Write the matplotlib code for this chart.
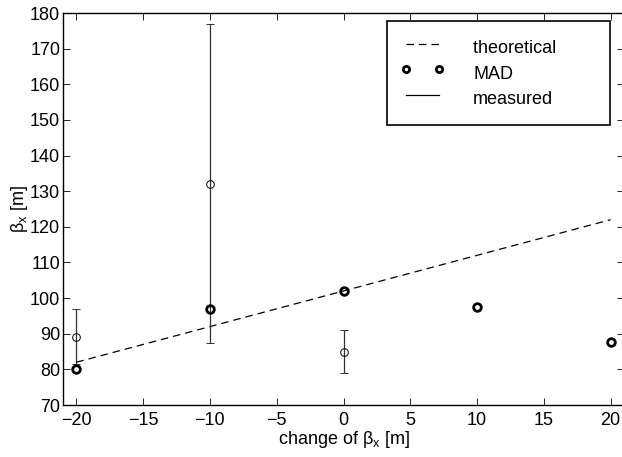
import matplotlib
matplotlib.use("Agg")
import matplotlib.pyplot as plt
import numpy as np
from matplotlib.lines import Line2D

plt.rcParams['font.family'] = ['Liberation Sans', 'DejaVu Sans']
plt.rcParams['mathtext.fontset'] = 'custom'
plt.rcParams['mathtext.rm'] = 'Liberation Sans'
plt.rcParams['mathtext.it'] = 'Liberation Sans'

theo_x = [-20, 20]
theo_y = [82, 122]

mad_x = [-20, -10, 0, 10, 20]
mad_y = [80, 97, 102, 97.5, 87.7]

meas_x = [-20, -10, 0]
meas_y = [89, 132, 85]
meas_lo = [81.5, 87.3, 79]
meas_hi = [97, 177, 91]

fig = plt.figure(figsize=(6.22, 4.57), dpi=100)
ax = fig.add_axes([63/622, 1 - 405/457, (624-63)/622, (405-13)/457])

yerr = [np.array(meas_y) - np.array(meas_lo), np.array(meas_hi) - np.array(meas_y)]
ax.errorbar(meas_x, meas_y, yerr=yerr, fmt='o', mfc='none', mec='black', ms=5.5,
            mew=0.7, ecolor='#333333', elinewidth=0.9, capsize=3, capthick=0.9,
            zorder=2)
ax.plot(theo_x, theo_y, '--', color='black', lw=0.9, dashes=(6, 4), zorder=3)
ax.plot(mad_x, mad_y, 'o', mfc='none', mec='black', ms=5.5, mew=2.0, ls='none', zorder=4)

ax.set_xlim(-21, 21)
ax.set_ylim(70, 180)
ax.set_xticks(range(-20, 21, 5))
ax.set_yticks(range(70, 181, 10))
ax.set_xticklabels(['\u221220', '\u221215', '\u221210', '\u22125', '0', '5', '10', '15', '20'])
ax.tick_params(direction='in', top=True, right=True, labelsize=13, length=5, width=0.6)
ax.tick_params(axis='x', pad=5)
ax.tick_params(axis='y', pad=2)
for s in ax.spines.values():
    s.set_linewidth(1.0)

ax.set_xlabel(r'change of $\beta_x$ [m]', fontsize=13, labelpad=0)
ax.set_ylabel(r'$\beta_x$ [m]', fontsize=13, labelpad=0)

h_theo = Line2D([], [], ls='--', color='black', lw=0.9, dashes=(6, 4))
h_mad = Line2D([], [], ls='none', marker='o', mfc='none', mec='black', ms=4.5, mew=2.0)
h_meas = Line2D([], [], ls='-', color='black', lw=0.9)
leg = ax.legend([h_theo, h_mad, h_meas], ['theoretical' + ' ' * 8, 'MAD', 'measured'],
                loc='upper right', bbox_to_anchor=((610-63)/561, (405-21)/392),
                bbox_transform=ax.transAxes, borderaxespad=0, fontsize=13, numpoints=2,
                handlelength=2.45, handleheight=1.8, handletextpad=1.6, borderpad=0.75,
                labelspacing=0.0,
                fancybox=False, edgecolor='black', framealpha=1)
leg.get_frame().set_linewidth(1.2)

fig.savefig('out.png', dpi=100)
